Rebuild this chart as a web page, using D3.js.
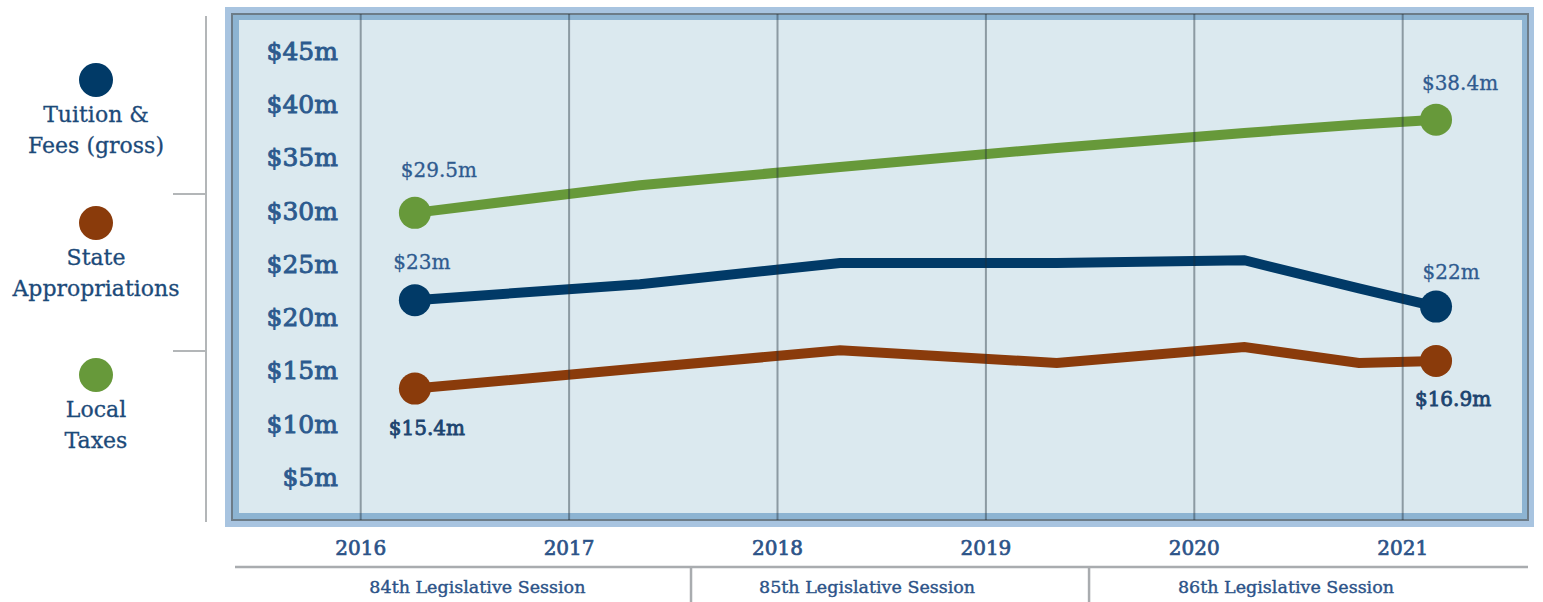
<!DOCTYPE html>
<html>
<head>
<meta charset="utf-8">
<script src="https://cdn.jsdelivr.net/npm/d3@7"></script>
<style>
  body { margin: 0; background: #fff; }
  svg text { font-family: "DejaVu Serif", serif; }
</style>
</head>
<body>
<svg id="chart" width="1543" height="602"></svg>
<script>
// 연도 (눈금 라벨)
var years = [2016, 2017, 2018, 2019, 2020, 2021];

// 데이터 지점 위치 (연 단위)
var pointYears = [2016.26, 2017.34, 2018.30, 2019.34, 2020.24, 2020.79, 2021.16];

// 시리즈 값 ($m)
var tuitionValues = [21.6, 23.1, 25.1, 25.1, 25.35, 22.7, 21.0];
var stateValues   = [13.3, 15.2, 16.9, 15.7, 17.2, 15.7, 15.9];
var localValues   = [29.8, 32.4, 34.1, 35.9, 37.3, 38.1, 38.55];

// 끝점 라벨
var tuitionLabels = ["$23m", "$22m"];
var stateLabels   = ["$15.4m", "$16.9m"];
var localLabels   = ["$29.5m", "$38.4m"];

// y축 눈금
var yTicks = [5, 10, 15, 20, 25, 30, 35, 40, 45];

// 범례
var legendNames = [["Tuition &", "Fees (gross)"], ["State", "Appropriations"], ["Local", "Taxes"]];

// 회기
var sessionNames = ["84th Legislative Session", "85th Legislative Session", "86th Legislative Session"];
var sessionMids  = [2016.56, 2018.43, 2020.44];
var sessionBreaks = [2017.585, 2019.495];

var svg = d3.select("#chart");

var x = d3.scaleLinear().domain([2016, 2021]).range([360.7, 1402.7]);
var y = d3.scaleLinear().domain([0, 45]).range([530.2, 51]);

var series = [
  {values: tuitionValues, labels: tuitionLabels, color: "#013a67",
   off: [[7, -38], [15, -35]], labelColor: ["#2f5b8f", "#2f5b8f"], bold: [0.3, 0.3]},
  {values: stateValues, labels: stateLabels, color: "#8a3b0b",
   off: [[12, 39], [17, 38]], labelColor: ["#1c446f", "#1c446f"], bold: [0.8, 0.8]},
  {values: localValues, labels: localLabels, color: "#67993a",
   off: [[24, -43], [24, -37]], labelColor: ["#2f5b8f", "#2f5b8f"], bold: [0.3, 0.3]}
];
var legendY = [80, 223, 375];

// 프레임
svg.append("rect").attr("x", 225).attr("y", 7).attr("width", 1309).attr("height", 520).attr("fill", "#a8c4e0");
svg.append("rect").attr("x", 232).attr("y", 14).attr("width", 1296).attr("height", 506)
   .attr("fill", "#8db4d2").attr("stroke", "#6c7c88").attr("stroke-width", 2);
svg.append("rect").attr("x", 239).attr("y", 20).attr("width", 1283).attr("height", 493).attr("fill", "#dbe9ef");

// y축 라벨
svg.append("g").selectAll("text")
   .data(yTicks)
   .enter()
   .append("text")
   .attr("x", 338)
   .attr("y", function(d) { return y(d); })
   .attr("dy", "0.36em")
   .attr("text-anchor", "end")
   .attr("font-size", 25)
   .attr("fill", "#2c5a8e")
   .attr("stroke", "#2c5a8e")
   .attr("stroke-width", 0.9)
   .text(function(d) { return "$" + d + "m"; });

// 선
var line = d3.line()
             .x(function(d, i) { return x(pointYears[i]); })
             .y(function(d) { return y(d); });

series.forEach(function(s) {
  svg.append("path")
     .datum(s.values)
     .attr("fill", "none")
     .attr("stroke", s.color)
     .attr("stroke-width", 10)
     .attr("stroke-linejoin", "miter")
     .attr("d", line);
});

// 세로 격자선 (선 위에 겹침)
svg.append("g").selectAll("line")
   .data(years)
   .enter()
   .append("line")
   .attr("x1", function(d) { return x(d); })
   .attr("x2", function(d) { return x(d); })
   .attr("y1", 14)
   .attr("y2", 520)
   .attr("stroke", "#1f2d38")
   .attr("stroke-opacity", 0.42)
   .attr("stroke-width", 2);

// 끝점 원 + 라벨
series.forEach(function(s) {
  var ends = [0, s.values.length - 1];
  ends.forEach(function(idx, k) {
    var cx = x(pointYears[idx]), cy = y(s.values[idx]);
    svg.append("circle").attr("cx", cx).attr("cy", cy).attr("r", 16).attr("fill", s.color);
    svg.append("text")
       .attr("x", cx + s.off[k][0])
       .attr("y", cy + s.off[k][1])
       .attr("dy", "0.36em")
       .attr("text-anchor", "middle")
       .attr("font-size", 20)
       .attr("fill", s.labelColor[k])
       .attr("stroke", s.labelColor[k])
       .attr("stroke-width", s.bold[k])
       .text(s.labels[k]);
  });
});

// x축 연도
svg.append("g").selectAll("text")
   .data(years)
   .enter()
   .append("text")
   .attr("x", function(d) { return x(d); })
   .attr("y", 555)
   .attr("text-anchor", "middle")
   .attr("font-size", 20)
   .attr("fill", "#2c5388")
   .attr("stroke", "#2c5388")
   .attr("stroke-width", 0.7)
   .text(function(d) { return d; });

// 회기 구분선
svg.append("line").attr("x1", 235).attr("x2", 1528).attr("y1", 567).attr("y2", 567)
   .attr("stroke", "#a9acaf").attr("stroke-width", 2.5);
svg.append("g").selectAll("line")
   .data(sessionBreaks)
   .enter()
   .append("line")
   .attr("x1", function(d) { return x(d); })
   .attr("x2", function(d) { return x(d); })
   .attr("y1", 567)
   .attr("y2", 602)
   .attr("stroke", "#a9acaf")
   .attr("stroke-width", 2.5);

svg.append("g").selectAll("text")
   .data(sessionNames)
   .enter()
   .append("text")
   .attr("x", function(d, i) { return x(sessionMids[i]); })
   .attr("y", 593)
   .attr("text-anchor", "middle")
   .attr("font-size", 17.5)
   .attr("fill", "#2c5388")
   .attr("stroke", "#2c5388")
   .attr("stroke-width", 0.4)
   .text(function(d) { return d; });

// 범례
svg.append("line").attr("x1", 206).attr("x2", 206).attr("y1", 16).attr("y2", 522)
   .attr("stroke", "#b3b6b8").attr("stroke-width", 2);
svg.append("g").selectAll("line")
   .data([194, 351])
   .enter()
   .append("line")
   .attr("x1", 173).attr("x2", 206)
   .attr("y1", function(d) { return d; })
   .attr("y2", function(d) { return d; })
   .attr("stroke", "#b3b6b8")
   .attr("stroke-width", 2);

var legend = svg.append("g").selectAll("g")
   .data(series)
   .enter()
   .append("g")
   .attr("transform", function(d, i) { return "translate(96," + legendY[i] + ")"; });

legend.append("circle").attr("r", 17).attr("fill", function(d) { return d.color; });

legend.each(function(d, i) {
  var g = d3.select(this);
  legendNames[i].forEach(function(t, j) {
    g.append("text")
     .attr("y", 34 + j * 31)
     .attr("dy", "0.36em")
     .attr("text-anchor", "middle")
     .attr("font-size", 22)
     .attr("fill", "#1c4a79")
     .attr("stroke", "#1c4a79")
     .attr("stroke-width", 0.3)
     .text(t);
  });
});
</script>
</body>
</html>
